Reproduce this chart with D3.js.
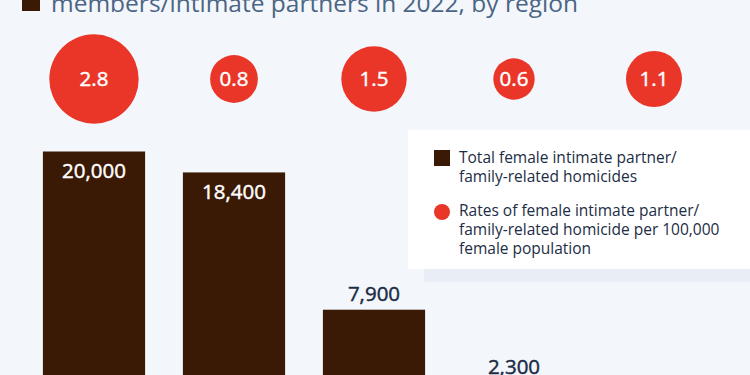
<!DOCTYPE html>
<html>
<head>
<meta charset="utf-8">
<script src="https://cdn.jsdelivr.net/npm/d3@7"></script>
<style>
  body { margin: 0; background: #f3f7fb; }
  svg { display: block; font-family: "Open Sans", sans-serif; }
</style>
</head>
<body>
<div id="chart"></div>
<script>
// data
var regions = ["Africa", "Asia", "Americas", "Europe", "Oceania"];
var totals = [20000, 18400, 7900, 2300, 300];
var rates = [2.8, 0.8, 1.5, 0.6, 1.1];
var legendLines = [
    ["Total female intimate partner/", "family-related homicides"],
    ["Rates of female intimate partner/", "family-related homicide per 100,000", "female population"]
];

var width = 750, height = 375;

var svg = d3.select("#chart")
    .append("svg")
    .attr("width", width)
    .attr("height", height);

svg.append("rect")
    .attr("width", width)
    .attr("height", height)
    .attr("fill", "#f3f7fb");

// title (cut off at the top)
svg.append("rect")
    .attr("x", 22).attr("y", -8)
    .attr("width", 18).attr("height", 19)
    .attr("fill", "#3a1905");
svg.append("text")
    .attr("x", 51).attr("y", 12)
    .attr("fill", "#4b6584")
    .style("font-size", "24.5px")
    .text("members/intimate partners in 2022, by region");

var x = d3.scaleBand()
    .domain(regions)
    .range([24, 724])
    .paddingInner(0.27)
    .paddingOuter(0.135);

var y = d3.scaleLinear()
    .domain([0, 20000])
    .range([413, 151.5]);

var r = d3.scaleSqrt()
    .domain([0, 2.8])
    .range([0, 44.7]);

// legend box with shadow strip
svg.append("rect")
    .attr("x", 424).attr("y", 262)
    .attr("width", 340).attr("height", 20)
    .attr("fill", "#e9eef6");
svg.append("rect")
    .attr("x", 408).attr("y", 130)
    .attr("width", 350).attr("height", 139)
    .attr("fill", "#ffffff");

// bars
var bars = regions.map(function (d, i) { return { region: d, total: totals[i], rate: rates[i] }; });

svg.append("g")
    .selectAll("rect")
    .data(bars)
    .enter()
    .append("rect")
    .attr("x", function (d) { return x(d.region); })
    .attr("y", function (d) { return y(d.total); })
    .attr("width", x.bandwidth())
    .attr("height", function (d) { return y(0) - y(d.total); })
    .attr("fill", "#3a1905");

var fmt = d3.format(",");
function inside(d) { return y(0) - y(d.total) > 150; }
svg.append("g")
    .selectAll("text")
    .data(bars)
    .enter()
    .append("text")
    .attr("x", function (d) { return x(d.region) + x.bandwidth() / 2; })
    .attr("y", function (d) { return inside(d) ? y(d.total) + 19 : y(d.total) - 16; })
    .attr("dy", "0.35em")
    .attr("text-anchor", "middle")
    .attr("fill", function (d) { return inside(d) ? "#ffffff" : "#1c2d45"; })
    .attr("stroke", function (d) { return inside(d) ? "#ffffff" : "#1c2d45"; })
    .attr("stroke-width", 0.45)
    .style("font-size", "20.5px")
    .text(function (d) { return fmt(d.total); });

// rate bubbles
var bubbles = svg.append("g")
    .selectAll("g")
    .data(bars)
    .enter()
    .append("g")
    .attr("transform", function (d) { return "translate(" + (x(d.region) + x.bandwidth() / 2) + ",79)"; });
bubbles.append("circle")
    .attr("r", function (d) { return r(d.rate); })
    .attr("fill", "#ea3629");
bubbles.append("text")
    .attr("dy", "0.35em")
    .attr("text-anchor", "middle")
    .attr("fill", "#ffffff")
    .attr("stroke", "#ffffff")
    .attr("stroke-width", 0.45)
    .style("font-size", "20.5px")
    .text(function (d) { return d3.format(".1f")(d.rate); });

// legend
svg.append("rect")
    .attr("x", 434).attr("y", 150)
    .attr("width", 16).attr("height", 16)
    .attr("fill", "#3a1905");
svg.append("circle")
    .attr("cx", 442).attr("cy", 212)
    .attr("r", 8)
    .attr("fill", "#ea3629");

var legendY = [158, 211];
legendLines.forEach(function (lines, i) {
    lines.forEach(function (line, j) {
        svg.append("text")
            .attr("x", 459)
            .attr("y", legendY[i] + j * 19)
            .attr("dy", "0.35em")
            .attr("fill", "#1c2d45")
            .style("font-size", "15.5px")
            .text(line);
    });
});
</script>
</body>
</html>
